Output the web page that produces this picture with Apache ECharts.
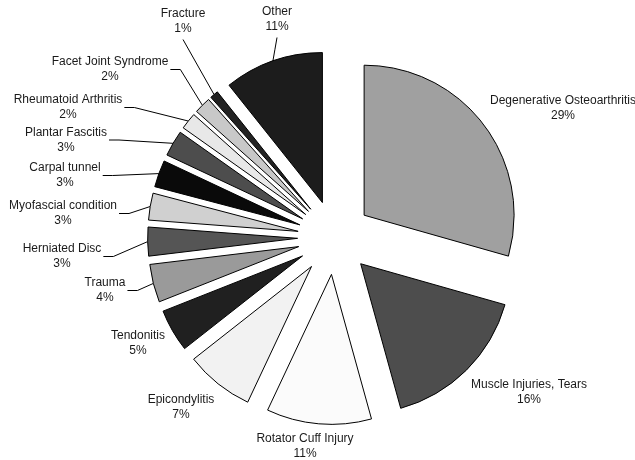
<!DOCTYPE html>
<html><head><meta charset="utf-8">
<script src="https://cdn.jsdelivr.net/npm/echarts@6/dist/echarts.min.js"></script>
<style>html,body{margin:0;padding:0;background:#fff}#c{width:635px;height:460px}</style>
</head><body><div id="c"></div>
<script>
const categories = ['Degenerative Osteoarthritis','Muscle Injuries, Tears','Rotator Cuff Injury','Epicondylitis','Tendonitis','Trauma','Herniated Disc','Myofascial condition','Carpal tunnel','Plantar Fascitis','Rheumatoid Arthritis','Facet Joint Syndrome','Fracture','Other'];
const shares = [29.4,16.3,11.3,7.4,4.6,4.1,3.1,2.9,2.9,2.8,1.8,1.8,0.9,10.7];
const colors = ['#a0a0a0','#4d4d4d','#fbfbfb','#f2f2f2','#202020','#9a9a9a','#555555','#d0d0d0','#0a0a0a','#4d4d4d','#e8e8e8','#c8c8c8','#222222','#1c1c1c'];
// label block centres and leader-line style (layout only)
const labelPos = [[563,108.5],[529,392.5],[305,446],[181,407.5],[138,343.5],[105,290.5],[62,256.5],[63,213.5],[65,175.5],[66,140],[68,107.5],[110,69.5],[183,21.5],[277,19.5]];
const leader = ['none','none','none','none','none','side','side','side','side','side','side','side','below','below'];

const CX = 334.6, CY = 237.5, R = 150, OFF = 37;
const total = shares.reduce((a,b)=>a+b,0);
const mids = [];
let cum = 0;
shares.forEach(v => { mids.push((cum + v/2)/total*2*Math.PI); cum += v; });

const chart = echarts.init(document.getElementById('c'), null, {renderer:'canvas'});
chart.setOption({
  backgroundColor:'#fff',
  animation:false,
  series:[{
    type:'pie',
    center:[CX,CY],
    radius:[0,R],
    startAngle:90,
    clockwise:true,
    selectedMode:'multiple',
    selectedOffset:OFF,
    silent:true,
    itemStyle:{borderColor:'#000',borderWidth:1},
    label:{show:false},
    labelLine:{show:false},
    data: categories.map((n,i)=>({
      name:n, value:shares[i], selected:true,
      itemStyle:{color:colors[i]}
    }))
  },{
    type:'pie',
    center:[CX,CY],
    radius:[0,R],
    startAngle:90,
    clockwise:true,
    avoidLabelOverlap:false,
    silent:true,
    itemStyle:{color:'rgba(0,0,0,0)',borderWidth:0},
    label:{
      show:true, position:'outside',
      fontFamily:'Liberation Sans, Arial, sans-serif', fontSize:12, lineHeight:15,
      color:'#1a1a1a', align:'center',
      formatter: p => p.name + '\n' + Math.round(p.percent) + '%'
    },
    labelLine:{show:true, length:10, length2:10, lineStyle:{color:'#000',width:1}},
    labelLayout: function(params){
      const i = params.dataIndex;
      const [x,y] = labelPos[i];
      const w = params.labelRect.width, h = params.labelRect.height;
      const res = {x:x, y:y, align:'center', verticalAlign:'middle'};
      const a = mids[i];
      const sx = CX + (R+OFF)*Math.sin(a), sy = CY - (R+OFF)*Math.cos(a);
      if (leader[i] === 'side') {
        const rx = x + w/2 + 2;
        res.labelLinePoints = [[sx,sy],[rx+10,y],[rx,y]];
      } else if (leader[i] === 'below') {
        const by = y + h/2 + 3;
        res.labelLinePoints = [[sx,sy],[(sx+x)/2,(sy+by)/2],[x,by]];
      }
      return res;
    },
    data: categories.map((n,i)=>({
      name:n, value:shares[i],
      labelLine:{show: leader[i] !== 'none'}
    }))
  }]
});
</script></body></html>
